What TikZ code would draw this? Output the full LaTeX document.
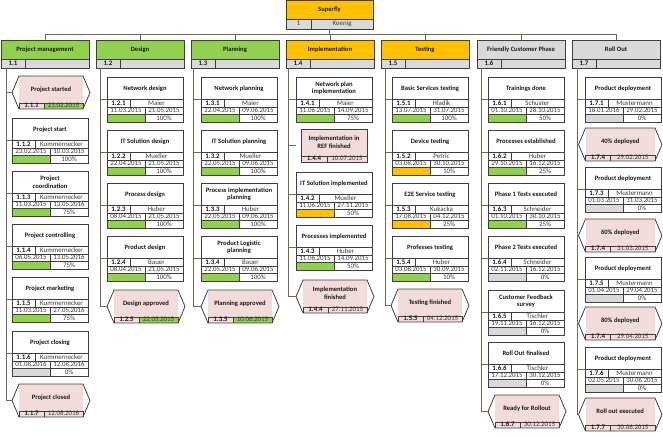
\documentclass[tikz,border=0pt]{standalone}
\usepackage{fontspec}
\setmainfont{Carlito}
\usetikzlibrary{calc}
\definecolor{wgreen}{HTML}{92D050}
\definecolor{worange}{HTML}{FFC000}
\definecolor{wgray}{HTML}{D9D9D9}
\definecolor{wpink}{HTML}{F2DCDB}
\definecolor{bordercol}{HTML}{3F3F3F}
\definecolor{conncol}{HTML}{6B6B55}
\definecolor{textcol}{HTML}{1A1A1A}
\definecolor{celltext}{HTML}{3A3A3A}
\tikzset{
  conn/.style={draw=conncol, line width=0.8pt},
  boxline/.style={draw=bordercol, line width=0.8pt},
  cellline/.style={draw=bordercol, line width=0.5pt},
  taskbox/.style={rectangle, minimum width=76pt, minimum height=45pt, inner sep=0pt, outer sep=0pt, fill=white},
  milebox/.style={rectangle, minimum height=33pt, inner sep=0pt, outer sep=0pt},
  hdrbox/.style={rectangle, minimum width=88pt, minimum height=28pt, inner sep=0pt, outer sep=0pt},
  rootbox/.style={rectangle, minimum width=87pt, minimum height=28.5pt, inner sep=0pt, outer sep=0pt},
  ttl/.style={font=\fontsize{6.6}{7.7}\selectfont\bfseries, align=center, inner sep=0pt, text=textcol},
  celltxt/.style={font=\fontsize{6.9}{7}\selectfont, inner sep=0pt, text=celltext, text height=4.6pt, text depth=0.9pt},
  idtxt/.style={font=\fontsize{6.9}{7}\selectfont\bfseries, inner sep=0pt, text=textcol, text height=4.6pt, text depth=0.9pt},
}
\newcommand{\wbx}{0}
\newcommand{\wmx}{0}
\newcommand{\wmw}{78}
\newcommand{\wbscol}[3]{\renewcommand{\wbx}{#1}\renewcommand{\wmx}{#2}\renewcommand{\wmw}{#3}}
% task: name, top, title, id, person, start, end, pct, bar colour
\newcommand{\wbstask}[9]{%
  \node[taskbox, anchor=north west] (#1) at (\wbx,#2) {};
  \begin{scope}[shift={(#1.north west)}]
    \fill[#9] (0,37.5) rectangle (38,45);
    \draw[cellline] (0,22.5) -- (76,22.5) (0,30) -- (76,30) (0,37.5) -- (76,37.5)
      (23,22.5) -- (23,30) (38,30) -- (38,45);
    \draw[boxline] (0,0) rectangle (76,45);
    \node[ttl] at (38,11.25) {#3};
    \node[idtxt] at (11.5,26.25) {#4};
    \node[celltxt] at (49.5,26.25) {#5};
    \node[celltxt] at (19,33.75) {#6};
    \node[celltxt] at (57,33.75) {#7};
    \node[celltxt] at (57,41.25) {#8};
  \end{scope}}
% milestone: name, top, title, id, date, date colour
\newcommand{\wbsmile}[6]{%
  \node[milebox, minimum width=\wmw pt, anchor=north west] (#1) at (\wmx,#2) {};
  \begin{scope}[shift={(#1.north west)}]
    \fill[wpink] (7,0) rectangle (\wmw-7,33);
    \fill[#6] (32,27) rectangle (\wmw-7,33);
    \draw[cellline] (7,27) -- (\wmw-7,27) (32,27) -- (32,33) (7,27) -- (7,33) (\wmw-7,27) -- (\wmw-7,33);
    \draw[boxline] (0,16.5) -- (7,0) -- (\wmw-7,0) -- (\wmw,16.5) -- (\wmw-7,33) -- (7,33) -- cycle;
    \node[ttl] at (\wmw/2,13.5) {#3};
    \node[idtxt] at (19.5,30) {#4};
    \node[celltxt] at ({(\wmw+25)/2},30) {#5};
  \end{scope}}
% rectangular milestone: name, top, title, id, date
\newcommand{\wbsrect}[5]{%
  \node[milebox, minimum width=76pt, anchor=north west] (#1) at (\wbx,#2) {};
  \begin{scope}[shift={(#1.north west)}]
    \fill[wpink] (5,0) rectangle (71,33);
    \draw[cellline] (5,27) -- (71,27) (31,27) -- (31,33);
    \draw[boxline] (5,0) rectangle (71,33);
    \node[ttl] at (38,13.5) {#3};
    \node[idtxt] at (18,30) {#4};
    \node[celltxt] at (51,30) {#5};
  \end{scope}}
% header: name, x, title, id, colour
\newcommand{\wbshead}[5]{%
  \node[hdrbox, anchor=north west] (#1) at (#2,40) {};
  \begin{scope}[shift={(#1.north west)}]
    \fill[#5] (0,0) rectangle (88,19);
    \fill[wgray] (0,19) rectangle (88,28);
    \draw[cellline] (0,19) -- (88,19) (24,19) -- (24,28);
    \draw[boxline] (0,0) rectangle (88,28);
    \node[ttl] at (44,9.5) {#3};
    \node[idtxt] at (12,23.5) {#4};
  \end{scope}}
\begin{document}
\begin{tikzpicture}[x=1pt, y=-1pt]
\fill[white] (0,0) rectangle (663,436);
\useasboundingbox (0,0) rectangle (663,436);

% root
\node[rootbox, anchor=north west] (root) at (286,0.6) {};
\begin{scope}[shift={(root.north west)}]
  \fill[worange] (0,0) rectangle (87,18.5);
  \fill[wgray] (0,18.5) rectangle (87,28.5);
  \draw[cellline] (0,18.5) -- (87,18.5) (25,18.5) -- (25,28.5);
  \draw[boxline] (0,0) rectangle (87,28.5);
  \node[ttl] at (43.5,9.5) {Superfly};
  \node[celltxt] at (12.5,23.5) {1};
  \node[celltxt] at (56,23.5) {Koenig};
\end{scope}

% level 1 headers
\wbshead{h1}{1}{Project management}{1.1}{wgreen}
\wbshead{h2}{96}{Design}{1.2}{wgreen}
\wbshead{h3}{191}{Planning}{1.3}{wgreen}
\wbshead{h4}{286}{Implementation}{1.4}{worange}
\wbshead{h5}{381}{Testing}{1.5}{worange}
\wbshead{h6}{477}{Friendly Customer Phase}{1.6}{wgray}
\wbshead{h7}{572}{Roll Out}{1.7}{wgray}

% column 1
\wbscol{12}{12}{78}
\wbsmile{m111}{76}{Project started}{1.1.1}{23.02.2015}{wgreen}
\wbstask{t112}{118}{Project start}{1.1.2}{Kummernecker}{23.02.2015}{10.03.2015}{100\%}{wgreen}
\wbstask{t113}{171}{Project\\coordination}{1.1.3}{Kummernecker}{11.03.2015}{13.05.2016}{75\%}{wgreen}
\wbstask{t114}{224}{Project controlling}{1.1.4}{Kummernecker}{06.05.2015}{13.05.2016}{75\%}{wgreen}
\wbstask{t115}{277}{Project marketing}{1.1.5}{Kummernecker}{11.03.2015}{27.05.2016}{75\%}{wgreen}
\wbstask{t116}{331}{Project closing}{1.1.6}{Kummernecker}{01.08.2016}{12.08.2016}{0\%}{wgray}
\wbsmile{m117}{384}{Project closed}{1.1.7}{12.08.2016}{wpink}

% column 2
\wbscol{107}{107}{78}
\wbstask{t121}{77}{Network design}{1.2.1}{Maier}{11.03.2015}{21.05.2015}{100\%}{wgreen}
\wbstask{t122}{130}{IT Solution design}{1.2.2}{Mueller}{22.04.2015}{21.05.2015}{100\%}{wgreen}
\wbstask{t123}{183}{Process design}{1.2.3}{Huber}{08.04.2015}{21.05.2015}{100\%}{wgreen}
\wbstask{t124}{236}{Product design}{1.2.4}{Bauer}{08.04.2015}{21.05.2015}{100\%}{wgreen}
\wbsmile{m125}{290}{Design approved}{1.2.5}{22.05.2015}{wgreen}

% column 3
\wbscol{201}{201}{78}
\wbstask{t131}{77}{Network planning}{1.3.1}{Maier}{22.04.2015}{09.06.2015}{100\%}{wgreen}
\wbstask{t132}{130}{IT Solution planning}{1.3.2}{Mueller}{22.05.2015}{09.06.2015}{100\%}{wgreen}
\wbstask{t133}{183}{Process implementation\\planning}{1.3.3}{Huber}{22.05.2015}{09.06.2015}{100\%}{wgreen}
\wbstask{t134}{236}{Product Logistic\\planning}{1.3.4}{Bauer}{22.05.2015}{09.06.2015}{100\%}{wgreen}
\wbsmile{m135}{290}{Planning approved}{1.3.5}{10.06.2015}{wgreen}

% column 4
\wbscol{296}{296}{78}
\wbstask{t141}{77}{Network plan\\implementation}{1.4.1}{Maier}{11.06.2015}{14.09.2015}{75\%}{wgreen}
\wbsrect{r144}{129}{Implementation in\\REF finished}{1.4.4}{10.07.2015}
\wbstask{t142}{172}{IT Solution implemented}{1.4.2}{Mueller}{11.06.2015}{27.11.2015}{50\%}{worange}
\wbstask{t143}{225}{Processes implemented}{1.4.3}{Huber}{11.06.2015}{14.09.2015}{50\%}{wgreen}
\wbsmile{m144}{280}{Implementation\\finished}{1.4.4}{27.11.2015}{wpink}

% column 5
\wbscol{392}{391}{78}
\wbstask{t151}{77}{Basic Services testing}{1.5.1}{Hladik}{13.07.2015}{31.07.2015}{100\%}{wgreen}
\wbstask{t152}{130}{Device testing}{1.5.2}{Petric}{03.08.2015}{30.10.2015}{10\%}{worange}
\wbstask{t153}{183}{E2E Service testing}{1.5.3}{Kukacka}{17.08.2015}{04.12.2015}{25\%}{worange}
\wbstask{t154}{236}{Professes testing}{1.5.4}{Huber}{03.08.2015}{30.09.2015}{10\%}{wgreen}
\wbsmile{m155}{289}{Testing finished}{1.5.5}{04.12.2015}{wpink}

% column 6
\wbscol{488}{488}{78}
\wbstask{t161}{77}{Trainings done}{1.6.1}{Schuster}{01.10.2015}{28.10.2015}{50\%}{wgreen}
\wbstask{t162}{130}{Processes established}{1.6.2}{Huber}{29.10.2015}{16.12.2015}{25\%}{wgreen}
\wbstask{t163}{183}{Phase 1 Tests executed}{1.6.3}{Schneider}{01.10.2015}{30.10.2015}{25\%}{wgreen}
\wbstask{t164}{236}{Phase 2 Tests executed}{1.6.4}{Schneider}{02.11.2015}{16.12.2015}{0\%}{wgray}
\wbstask{t165}{290}{Customer Feedback\\survey}{1.6.5}{Tischler}{19.11.2015}{16.12.2015}{0\%}{wgray}
\wbstask{t166}{342}{Roll Out finalised}{1.6.6}{Tischler}{17.12.2015}{30.12.2015}{0\%}{wgray}
\wbsmile{m167}{395}{Ready for Rollout}{1.6.7}{30.12.2015}{wpink}

% column 7
\wbscol{585}{578.5}{83.5}
\wbstask{t171}{77}{Product deployment}{1.7.1}{Mustermann}{18.01.2016}{29.02.2015}{0\%}{wgray}
\wbsmile{m174a}{128}{40\% deployed}{1.7.4}{29.02.2015}{wpink}
\wbstask{t173}{167}{Product deployment}{1.7.3}{Mustermann}{01.03.2015}{31.03.2015}{0\%}{wgray}
\wbsmile{m174b}{219}{60\% deployed}{1.7.4}{31.03.2015}{wpink}
\wbstask{t175}{257}{Product deployment}{1.7.5}{Mustermann}{01.04.2015}{29.04.2015}{0\%}{wgray}
\wbsmile{m174c}{307}{80\% deployed}{1.7.4}{29.04.2015}{wpink}
\wbstask{t176}{347}{Product deployment}{1.7.6}{Mustermann}{02.05.2015}{30.06.2015}{0\%}{wgray}
\wbsmile{m177}{398}{Roll out executed}{1.7.7}{30.06.2015}{wpink}

% connectors: bus
\coordinate (bus) at (0,34.5);
\draw[conn] (root.south) -- (root.south |- bus);
\draw[conn] (h1.north) |- (h7.north |- bus) -- (h7.north);
\foreach \h in {h2,h3,h4,h5,h6} \draw[conn] (\h.north) -- (\h.north |- bus);

% column spines
\coordinate (v1) at (6,68);
\coordinate (v2) at (100,68);
\coordinate (v3) at (193.5,68);
\coordinate (v4) at (288.5,68);
\coordinate (v5) at (385,68);
\coordinate (v6) at (481,68);
\coordinate (v7) at (577,68);
\draw[conn] (v1) |- (m117.west);
\foreach \n in {m111,t112,t113,t114,t115,t116} \draw[conn] (\n.west) -- (\n.west -| v1);
\draw[conn] (v2) |- (m125.west);
\foreach \n in {t121,t122,t123,t124} \draw[conn] (\n.west) -- (\n.west -| v2);
\draw[conn] (v3) |- (m135.west);
\foreach \n in {t131,t132,t133,t134} \draw[conn] (\n.west) -- (\n.west -| v3);
\draw[conn] (v4) |- (m144.west);
\foreach \n in {t141,r144,t142,t143} \draw[conn] (\n.west) -- (\n.west -| v4);
\draw[conn] (v5) |- (m155.west);
\foreach \n in {t151,t152,t153,t154} \draw[conn] (\n.west) -- (\n.west -| v5);
\draw[conn] (v6) |- (m167.west);
\foreach \n in {t161,t162,t163,t164,t165,t166} \draw[conn] (\n.west) -- (\n.west -| v6);
\draw[conn] (v7) |- (m177.west);
\foreach \n in {t171,m174a,t173,m174b,t175,m174c,t176} \draw[conn] (\n.west) -- (\n.west -| v7);
\end{tikzpicture}
\end{document}
